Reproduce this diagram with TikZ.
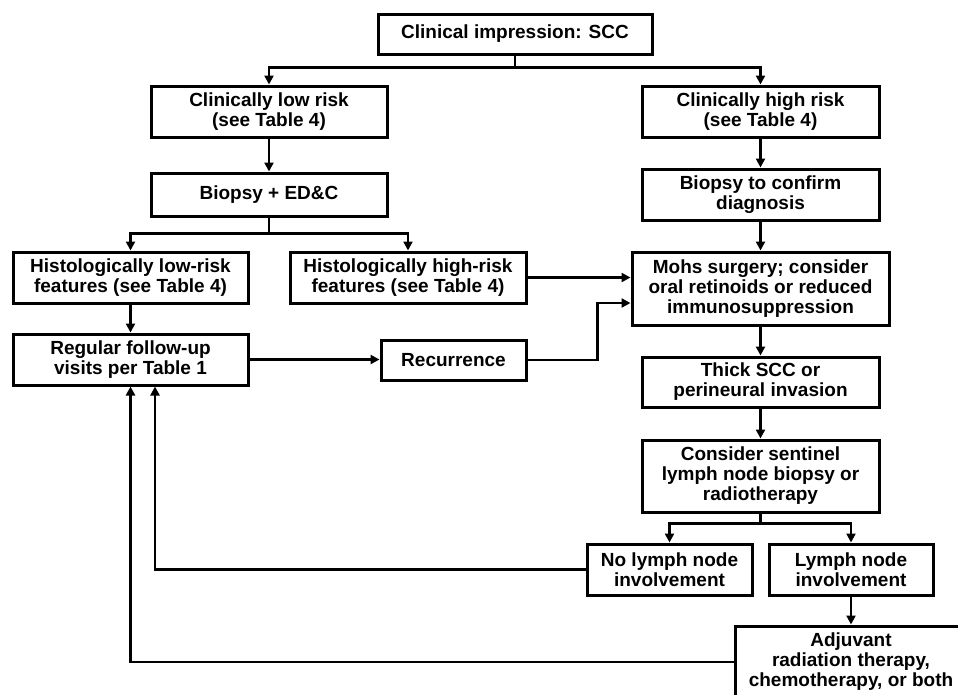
\documentclass[tikz,border=0pt]{standalone}
\usepackage{fontspec}
\setmainfont{Liberation Sans}
\usetikzlibrary{arrows.meta}

\begin{document}
\begin{tikzpicture}[x=1pt,y=-1pt,line width=2.8pt,
	>={Triangle[length=9pt,width=9pt]},
	box/.style={draw,line width=3pt,align=center,inner sep=0pt,font=\bfseries\fontsize{19}{20}\selectfont}]
	\useasboundingbox (0,0) rectangle (958,694);
	\clip (0,0) rectangle (958,694);
	
	\node[box,minimum width=274pt,minimum height=40pt] (imp) at (515,34) {Clinical impression: SCC};
	
	\node[box,minimum width=236pt,minimum height=51pt] (low) at (269,111.5) {Clinically low risk\\(see Table 4)};
	\node[box,minimum width=237pt,minimum height=51pt] (high) at (760.5,111.5) {Clinically high risk\\(see Table 4)};
	\node[box,minimum width=236pt,minimum height=43pt] (bedc) at (269,194.5) {Biopsy + ED\&C};
	\node[box,minimum width=237pt,minimum height=51pt] (bconf) at (760.5,194.5) {Biopsy to confirm\\diagnosis};
	
	\node[box,minimum width=235pt,minimum height=51pt] (hlow) at (130.5,277.5) {Histologically low-risk\\features (see Table 4)};
	\node[box,minimum width=236pt,minimum height=51pt] (hhigh) at (408,277.5) {Histologically high-risk\\features (see Table 4)};
	\node[box,minimum width=257pt,minimum height=73pt] (mohs) at (760.5,288.5) {Mohs surgery; consider\\oral retinoids or reduced\\immunosuppression};
	
	\node[box,minimum width=235pt,minimum height=51pt] (follow) at (130.5,359.5) {Regular follow-up\\visits per Table 1};
	\node[box,minimum width=145pt,minimum height=40pt] (recur) at (453.5,360) {Recurrence};
	\node[box,minimum width=237pt,minimum height=50pt] (thick) at (760.5,382) {Thick SCC or\\perineural invasion};
	\node[box,minimum width=237pt,minimum height=72pt] (sent) at (760.5,476) {Consider sentinel\\lymph node biopsy or\\radiotherapy};
	
	\node[box,minimum width=165pt,minimum height=51pt] (nolymph) at (669.5,569.5) {No lymph node\\involvement};
	\node[box,minimum width=164pt,minimum height=51pt] (lymph) at (851,569.5) {Lymph node\\involvement};
	\node[box,minimum width=232pt,minimum height=72pt] (adj) at (851,662) {Adjuvant\\radiation therapy,\\chemotherapy, or both};
	
	
	\draw[->] (imp.south) -- ++(0,12) -| (low.north);
	\draw[->] (imp.south) -- ++(0,12) -| (high.north);
	\draw[->] (low) -- (bedc);
	\draw[->] (high) -- (bconf);
	\draw[->] (bconf) -- (mohs);
	
	\draw[->] (bedc.south) -- ++(0,16) -| (hlow.north);
	\draw[->] (bedc.south) -- ++(0,16) -| (hhigh.north);
	\draw[->] (hlow) -- (follow);
	\draw[->] (follow.east) -- (follow.east -| recur.west);
	\draw[->] (hhigh.east) -- (hhigh.east -| mohs.west);
	\draw[->] (recur.east) -- ++(70,0) |- ([yshift=-14.5pt]mohs.west);
	
	\draw[->] (mohs) -- (thick);
	\draw[->] (thick) -- (sent);
	\draw[->] (sent.south) -- ++(0,10) -| (nolymph.north);
	\draw[->] (sent.south) -- ++(0,10) -| (lymph.north);
	\draw[->] (lymph) -- (adj);
	
	\draw[->] (nolymph.west) -| ([xshift=24.5pt]follow.south);
	\draw[->] (adj.west) -| (follow.south);
\end{tikzpicture}
\end{document}
